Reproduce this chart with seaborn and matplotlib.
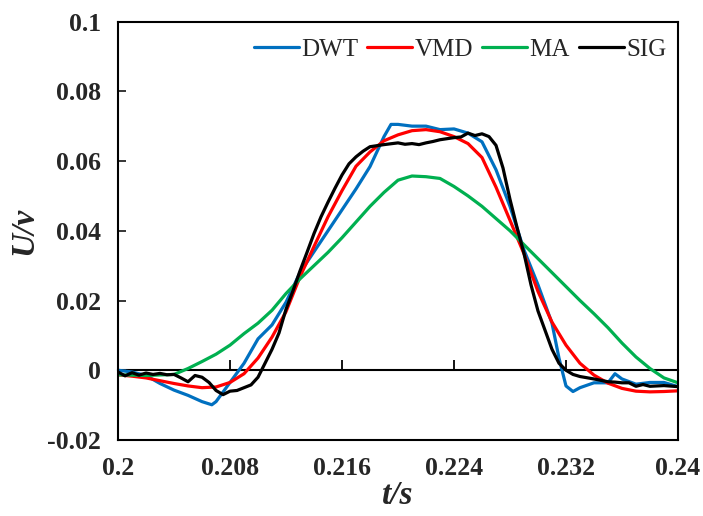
import numpy as np
import pandas as pd
import matplotlib
matplotlib.use("Agg")
import matplotlib.pyplot as plt
import seaborn as sns

# ---------------- data ----------------
t_ma = [0.200, 0.202, 0.204, 0.205, 0.206, 0.207, 0.208, 0.209, 0.210, 0.211,
        0.212, 0.213, 0.214, 0.215, 0.216, 0.217, 0.218, 0.219, 0.220, 0.221,
        0.222, 0.223, 0.224, 0.225, 0.226, 0.227, 0.228, 0.229, 0.230, 0.231,
        0.232, 0.233, 0.234, 0.235, 0.236, 0.237, 0.238, 0.239, 0.240]
u_ma = [-0.0013, -0.0015, -0.0012, 0.0005, 0.0025, 0.0046, 0.0072, 0.0105, 0.0135, 0.0172,
        0.0220, 0.0262, 0.0300, 0.0338, 0.0380, 0.0425, 0.0470, 0.0510, 0.0545, 0.0557,
        0.0555, 0.0550, 0.0527, 0.0500, 0.0470, 0.0435, 0.0400, 0.0360, 0.0320, 0.0280,
        0.0240, 0.0200, 0.0162, 0.0122, 0.0078, 0.0038, 0.0005, -0.0022, -0.0036]

t_vmd = [0.200, 0.201, 0.202, 0.203, 0.204, 0.205, 0.206, 0.207, 0.208, 0.209,
         0.210, 0.211, 0.212, 0.213, 0.214, 0.215, 0.216, 0.217, 0.218, 0.219,
         0.220, 0.221, 0.222, 0.223, 0.224, 0.225, 0.226, 0.227, 0.228, 0.229,
         0.230, 0.231, 0.232, 0.233, 0.234, 0.235, 0.236, 0.237, 0.238, 0.239, 0.240]
u_vmd = [-0.0013, -0.0017, -0.0022, -0.0030, -0.0038, -0.0045, -0.0050, -0.0048, -0.0035, -0.0010,
         0.0035, 0.0095, 0.0168, 0.0268, 0.0355, 0.0440, 0.0515, 0.0585, 0.0626, 0.0658,
         0.0675, 0.0687, 0.0690, 0.0684, 0.0670, 0.0650, 0.0610, 0.0525, 0.0430, 0.0334,
         0.0226, 0.0138, 0.0072, 0.0020, -0.0014, -0.0037, -0.0052, -0.0060, -0.0062, -0.0061, -0.0059]

t_dwt = [0.2000, 0.2010, 0.2020, 0.2030, 0.2040, 0.2050, 0.2060, 0.2067, 0.2070, 0.2080,
         0.2090, 0.2100, 0.2110, 0.2120, 0.2130, 0.2140, 0.2150, 0.2160, 0.2170, 0.2180,
         0.2190, 0.2195, 0.2200, 0.2210, 0.2220, 0.2230, 0.2240, 0.2250, 0.2260, 0.2270,
         0.2280, 0.2290, 0.2300, 0.2310, 0.2315, 0.2320, 0.2325, 0.2330, 0.2340, 0.2350,
         0.2355, 0.2360, 0.2370, 0.2380, 0.2390, 0.2400]
u_dwt = [0.0000, -0.0005, -0.0015, -0.0038, -0.0057, -0.0072, -0.0090, -0.0099, -0.0090, -0.0035,
         0.0020, 0.0090, 0.0130, 0.0195, 0.0280, 0.0340, 0.0400, 0.0460, 0.0520, 0.0584,
         0.0670, 0.0705, 0.0705, 0.0700, 0.0700, 0.0690, 0.0692, 0.0680, 0.0655, 0.0575,
         0.0470, 0.0345, 0.0245, 0.0135, 0.0035, -0.0045, -0.0061, -0.0050, -0.0036, -0.0036,
         -0.0010, -0.0025, -0.0040, -0.0035, -0.0035, -0.0047]

t_sig = [0.2000, 0.2005, 0.2010, 0.2015, 0.2020, 0.2025, 0.2030, 0.2035, 0.2040, 0.2045,
         0.2050, 0.2055, 0.2060, 0.2065, 0.2070, 0.2075, 0.2080, 0.2085, 0.2090, 0.2095,
         0.2100, 0.2105, 0.2110, 0.2115, 0.2120, 0.2125, 0.2130, 0.2135, 0.2140, 0.2145,
         0.2150, 0.2155, 0.2160, 0.2165, 0.2170, 0.2175, 0.2180, 0.2190, 0.2200, 0.2205,
         0.2210, 0.2215, 0.2220, 0.2225, 0.2230, 0.2235, 0.2240, 0.2245, 0.2250, 0.2255,
         0.2260, 0.2265, 0.2270, 0.2275, 0.2280, 0.2285, 0.2290, 0.2295, 0.2300, 0.2305,
         0.2310, 0.2315, 0.2320, 0.2325, 0.2330, 0.2340, 0.2350, 0.2355, 0.2360, 0.2365,
         0.2370, 0.2375, 0.2380, 0.2390, 0.2400]
u_sig = [-0.0005, -0.0016, -0.0007, -0.0014, -0.0008, -0.0012, -0.0009, -0.0013, -0.0012, -0.0022,
         -0.0033, -0.0015, -0.0020, -0.0035, -0.0058, -0.0070, -0.0060, -0.0058, -0.0050, -0.0042,
         -0.0020, 0.0020, 0.0060, 0.0107, 0.0175, 0.0228, 0.0285, 0.0338, 0.0392, 0.0440,
         0.0482, 0.0522, 0.0560, 0.0592, 0.0612, 0.0628, 0.0641, 0.0647, 0.0652, 0.0648,
         0.0650, 0.0647, 0.0652, 0.0656, 0.0661, 0.0664, 0.0667, 0.0669, 0.0680, 0.0673,
         0.0678, 0.0670, 0.0645, 0.0580, 0.0490, 0.0410, 0.0335, 0.0245, 0.0170, 0.0115,
         0.0060, 0.0020, 0.0000, -0.0012, -0.0018, -0.0025, -0.0033, -0.0034, -0.0036, -0.0036,
         -0.0046, -0.0041, -0.0046, -0.0044, -0.0047]

series_names = ["DWT", "VMD", "MA", "SIG"]
series_colors = ["#0070C0", "#FF0000", "#00B050", "#000000"]

x_ticks = [0.2, 0.208, 0.216, 0.224, 0.232, 0.24]
x_tick_labels = ["0.2", "0.208", "0.216", "0.224", "0.232", "0.24"]
y_ticks = [-0.02, 0.0, 0.02, 0.04, 0.06, 0.08, 0.1]
y_tick_labels = ["-0.02", "0", "0.02", "0.04", "0.06", "0.08", "0.1"]

# ---------------- build long table ----------------
frames = []
for name, tt, uu in [("DWT", t_dwt, u_dwt), ("VMD", t_vmd, u_vmd),
                     ("MA", t_ma, u_ma), ("SIG", t_sig, u_sig)]:
    frames.append(pd.DataFrame({"t": tt, "U": uu, "method": name}))
df = pd.concat(frames, ignore_index=True)

sns.set_style("white")
plt.rcParams["font.family"] = ["Liberation Serif", "DejaVu Serif"]

fig = plt.figure(figsize=(7.03, 5.16), dpi=100)
ax = fig.add_axes([0.1679, 0.1473, 0.7965, 0.811])

sns.lineplot(data=df, x="t", y="U", hue="method", hue_order=series_names,
             palette=dict(zip(series_names, series_colors)), linewidth=2.3,
             errorbar=None, sort=True, ax=ax)

ax.set_xlim(0.2, 0.24)
ax.set_ylim(-0.02, 0.1)

ax.set_xticks(x_ticks)
ax.set_xticklabels(x_tick_labels, fontsize=18.5, fontweight="bold")
ax.set_yticks(y_ticks)
ax.set_yticklabels(y_tick_labels, fontsize=18.5, fontweight="bold")
ax.tick_params(axis="x", length=0, pad=12)
ax.tick_params(axis="y", direction="in", length=6, width=1.3, pad=12, left=True)

for s in ax.spines.values():
    s.set_visible(True)
    s.set_color("black")
    s.set_linewidth(1.5)

# zero line with upward ticks
sec = ax.secondary_xaxis(0.02 / 0.12)
sec.set_xticks(x_ticks)
sec.set_xticklabels([])
sec.tick_params(direction="in", length=7, width=1.3, color="black")
sec.spines["bottom"].set_linewidth(1.5)
sec.spines["bottom"].set_color("black")

ax.set_xlabel("t/s", fontsize=24, fontweight="bold", fontstyle="italic", labelpad=0)
ax.set_ylabel("U/v", fontsize=24, fontweight="bold", fontstyle="italic", labelpad=6)

leg = ax.legend(loc="upper right", ncol=4, frameon=False, fontsize=18,
                handlelength=1.8, handletextpad=0.1, columnspacing=0.35,
                borderaxespad=0.2, bbox_to_anchor=(1.006, 0.995))
for line in leg.get_lines():
    line.set_linewidth(2.3)

fig.savefig("out.png", dpi=100)
